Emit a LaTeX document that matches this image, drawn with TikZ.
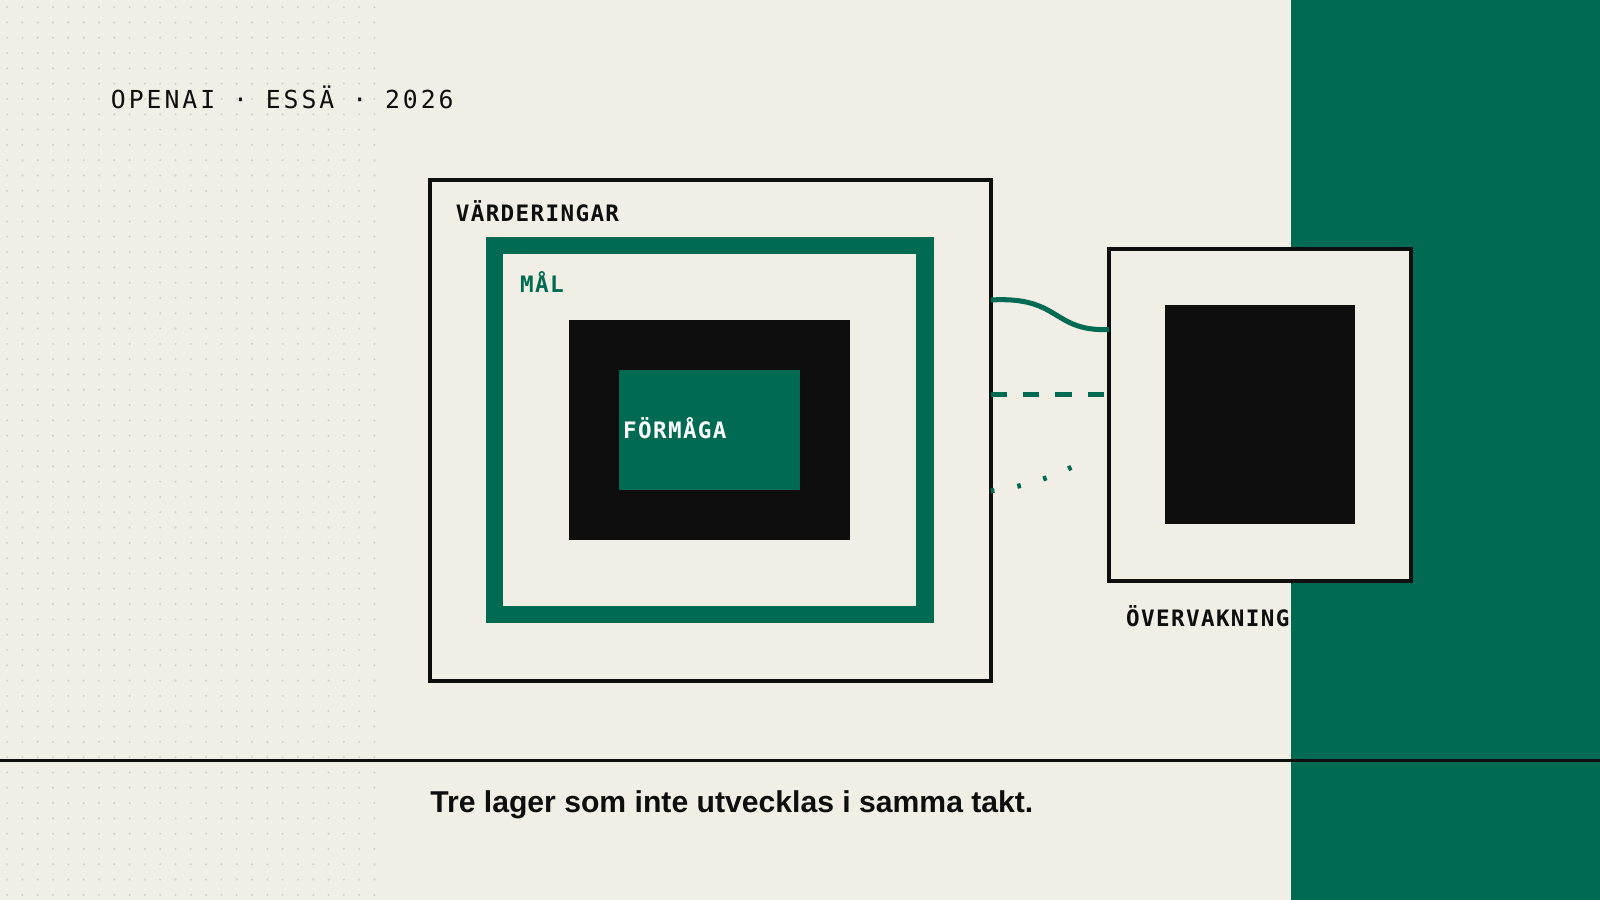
\documentclass[tikz,border=0pt]{standalone}
\usepackage{fontspec}
\setmainfont{Liberation Sans}
\newfontfamily\monofont{DejaVu Sans Mono}[LetterSpace=12]
\newfontfamily\labelfont{DejaVu Sans Mono}[LetterSpace=6]
\usetikzlibrary{positioning}
\definecolor{paper}{HTML}{F1EEE6}
\definecolor{forest}{HTML}{006B52}
\definecolor{ink}{HTML}{0E0E0E}
\definecolor{dotgray}{HTML}{D3CEC3}
\tikzset{
  frame/.style={draw=ink, line width=1.15pt},
  tag/.style={font=\labelfont\bfseries\fontsize{6.3}{7}\selectfont, anchor=west, inner sep=0pt},
  link/.style={draw=forest, line width=1.4pt}
}
\begin{document}
\begin{tikzpicture}[x=0.01cm, y=-0.01cm]
        % Background and panels
        \fill[paper] (0,0) rectangle (1568,882);
        \useasboundingbox (0,0) rectangle (1568,882);
        \fill[forest] (1265,0) rectangle (1568,882);
        \foreach \x in {7,22,...,367} {
            \foreach \y in {7,22,...,882} {
                \fill[dotgray] (\x,\y) circle (1.1);
            }
        }
        \draw[ink, line width=0.9pt] (0,745) -- (1568,745);
        \node[font=\monofont\fontsize{6.9}{8}\selectfont, anchor=west, inner sep=0pt, text=ink] (title) at (108,95) {OPENAI · ESSÄ · 2026};
        
        % Nested layers
        \draw[frame, fill=paper] (421,176) rectangle (971,667);
        \draw[forest, line width=4.8pt] (484.5,240.5) rectangle (906.5,602.5);
        \fill[ink] (558,314) rectangle (833,529);
        \fill[forest] (607,363) rectangle (784,480);
        \node[tag, text=ink] (vard) at (446,207) {VÄRDERINGAR};
        \node[tag, text=forest] (mal) at (509,276) {MÅL};
        \node[tag, text=white] (form) at (610,420) {FÖRMÅGA};
        
        % Monitoring box
        \draw[frame, fill=paper] (1087,244) rectangle (1383,569);
        \fill[ink] (1142,299) rectangle (1328,514);
        \node[tag, text=ink] (overv) at (1103,604) {ÖVERVAKNING};
        
        % Connectors
        \coordinate (a1) at (971,294);
        \coordinate (b1) at (1087,323);
        \coordinate (a2) at (971,387);
        \coordinate (b2) at (1087,387);
        \coordinate (a3) at (971,481);
        \coordinate (b3) at (1050,458);
        \draw[link] (a1) .. controls (1040,290) and (1030,325) .. (b1);
        \draw[link, dash pattern=on 4.5pt off 4.5pt] (a2) -- (b2);
        \draw[link, dash pattern=on 1pt off 6.5pt] (a3) .. controls (1000,478) and (1030,468) .. (b3);
        
        % Caption
        \node[font=\bfseries\fontsize{8.4}{10}\selectfont, anchor=west, inner sep=0pt, text=ink] (cap) at (421,789) {Tre lager som inte utvecklas i samma takt.};
    \end{tikzpicture}
\end{document}
